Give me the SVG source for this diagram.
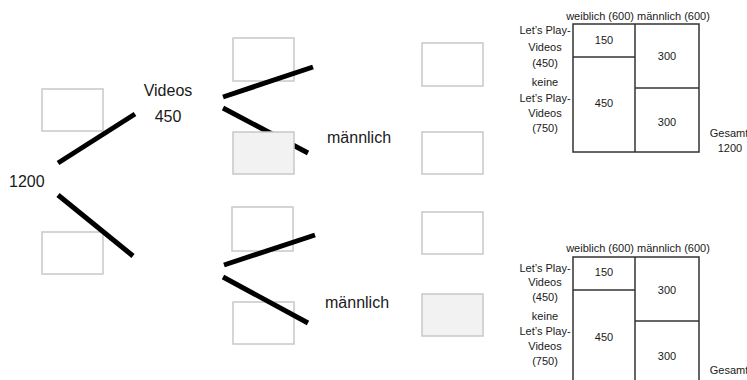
<svg xmlns="http://www.w3.org/2000/svg" width="747" height="380" viewBox="0 0 747 380">
<style>
.box{fill:none;stroke:#c8c8c8;stroke-width:1.5}
.gray{fill:#f2f2f2;stroke:#c8c8c8;stroke-width:1.5}
.ln{stroke:#000;stroke-width:5;fill:none}
.big{font-family:"Liberation Sans",Arial,sans-serif;font-size:16px;fill:#1a1a1a}
.sm{font-family:"Liberation Sans",Arial,sans-serif;font-size:11px;fill:#1a1a1a;text-anchor:middle}
.tb{fill:none;stroke:#333;stroke-width:1.5}
</style>
<g id="box-l1"><rect class="box" x="42" y="89" width="61" height="42"/></g>
<g id="box-l2"><rect class="box" x="42" y="232" width="61" height="42"/></g>
<g id="box-m1"><rect class="box" x="233" y="38" width="61" height="43"/></g>
<g id="box-m3"><rect class="box" x="232" y="207" width="61" height="44"/></g>
<g id="box-m4"><rect class="box" x="233" y="302" width="61" height="42"/></g>
<g id="box-r1"><rect class="box" x="422" y="43" width="61" height="43"/></g>
<g id="box-r2"><rect class="box" x="422" y="132" width="61" height="42"/></g>
<g id="box-r3"><rect class="box" x="422" y="212" width="61" height="42"/></g>
<g id="connectors">
<line class="ln" x1="58" y1="163" x2="135" y2="114"/>
<line class="ln" x1="58" y1="195" x2="133" y2="256"/>
<line class="ln" x1="223" y1="97" x2="313" y2="67"/>
<line class="ln" x1="223" y1="108" x2="308" y2="153"/>
<line class="ln" x1="224" y1="265" x2="315" y2="235"/>
<line class="ln" x1="223" y1="277" x2="308" y2="323"/>
</g>
<g id="box-m2"><rect class="gray" x="233" y="132" width="61" height="42"/></g>
<g id="box-r4"><rect class="gray" x="422" y="294" width="61" height="42"/></g>
<g id="labels">
<text class="big" x="9" y="187">1200</text>
<text class="big" x="168" y="96" text-anchor="middle">Videos</text>
<text class="big" x="168" y="122" text-anchor="middle">450</text>
<text class="big" x="327" y="143">männlich</text>
<text class="big" x="325" y="308">männlich</text>
</g>
<g id="table1">
<rect class="tb" x="573" y="24" width="126" height="128"/>
<line class="tb" x1="635" y1="24" x2="635" y2="152"/>
<line class="tb" x1="573" y1="57" x2="635" y2="57"/>
<line class="tb" x1="635" y1="88" x2="699" y2="88"/>
<text class="sm" x="638" y="20">weiblich (600) männlich (600)</text>
<text class="sm" x="545" y="34">Let’s Play-</text>
<text class="sm" x="545" y="51">Videos</text>
<text class="sm" x="545" y="67">(450)</text>
<text class="sm" x="545" y="86">keine</text>
<text class="sm" x="545" y="102">Let’s Play-</text>
<text class="sm" x="545" y="117">Videos</text>
<text class="sm" x="545" y="132">(750)</text>
<text class="sm" x="604" y="44">150</text>
<text class="sm" x="667" y="60">300</text>
<text class="sm" x="604" y="107">450</text>
<text class="sm" x="667" y="126">300</text>
<text class="sm" x="729" y="137">Gesamt</text>
<text class="sm" x="730" y="152">1200</text>
</g>
<g id="table2">
<rect class="tb" x="573" y="257" width="126" height="128"/>
<line class="tb" x1="635" y1="257" x2="635" y2="385"/>
<line class="tb" x1="573" y1="290" x2="635" y2="290"/>
<line class="tb" x1="635" y1="321" x2="699" y2="321"/>
<text class="sm" x="638" y="252">weiblich (600) männlich (600)</text>
<text class="sm" x="545" y="272">Let’s Play-</text>
<text class="sm" x="545" y="286">Videos</text>
<text class="sm" x="545" y="301">(450)</text>
<text class="sm" x="545" y="320">keine</text>
<text class="sm" x="545" y="335">Let’s Play-</text>
<text class="sm" x="545" y="350">Videos</text>
<text class="sm" x="545" y="365">(750)</text>
<text class="sm" x="604" y="276">150</text>
<text class="sm" x="667" y="294">300</text>
<text class="sm" x="604" y="341">450</text>
<text class="sm" x="667" y="360">300</text>
<text class="sm" x="729" y="374">Gesamt</text>
<text class="sm" x="730" y="388">1200</text>
</g>
</svg>
